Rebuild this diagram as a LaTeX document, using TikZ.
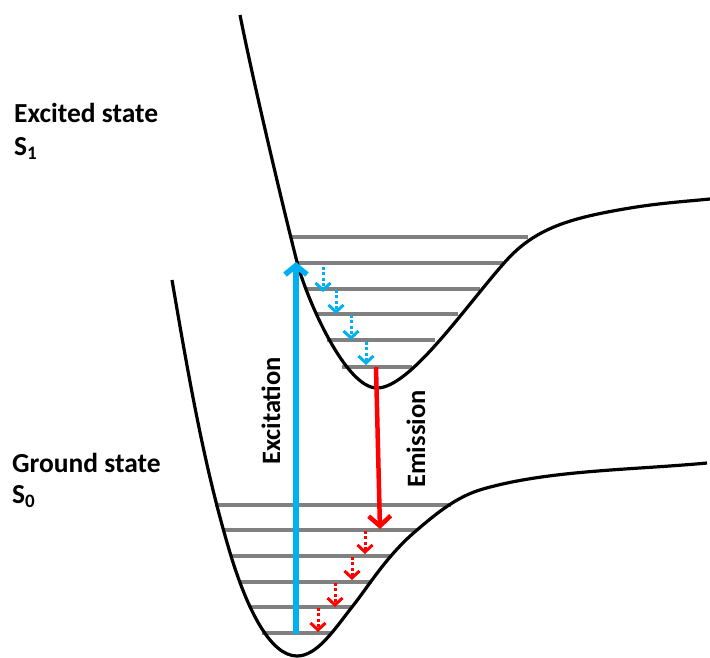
\documentclass[tikz,border=0pt]{standalone}
\usepackage{fontspec}
\setmainfont{Carlito}
\usetikzlibrary{arrows.meta}
\definecolor{exblue}{RGB}{0,176,240}
\definecolor{emred}{RGB}{255,0,0}
\definecolor{lvgray}{RGB}{128,128,128}
\newcommand{\subnum}[1]{\raisebox{-4pt}{\fontsize{19}{19}\selectfont #1}}
\tikzset{
  pot/.style={line width=3.2pt, black, line join=round},
  level/.style={line width=3.2pt, lvgray},
  lbl/.style={font=\fontsize{27.5}{32}\selectfont\bfseries, inner sep=0pt},
  vlbl/.style={font=\fontsize{26.5}{32}\selectfont\bfseries, inner sep=0pt, rotate=90, anchor=base},
  excite/.style={line width=5.5pt, exblue, -{Straight Barb[length=9pt,width=22pt]}},
  emit/.style={line width=4.5pt, emred, -{Straight Barb[length=10pt,width=22pt]}},
  relax/.style={line width=3pt, dash pattern=on 3pt off 2.4pt,
                -{Straight Barb[length=7pt,width=15pt]}},
}
\begin{document}
\begin{tikzpicture}[x=1pt,y=-1pt]
\useasboundingbox (0,0) rectangle (710,657);

% vibrational levels of S1
\foreach \y/\a/\b in {237/292/528, 263/297/503, 289/307/480, 314/316/458, 340/327/435, 367/342/412}
  \draw[level] (\a,\y) -- (\b,\y);
% vibrational levels of S0
\foreach \y/\a/\b in {505/215/451, 530/223/417, 556/231/390, 582/240/372, 607/250/352, 633/262/332}
  \draw[level] (\a,\y) -- (\b,\y);

% potential energy curve of S1
\draw[pot] (240,15) .. controls (255,90) and (285,215) .. (297,262)
  .. controls (306,297) and (345,388) .. (377,388)
  .. controls (410,388) and (465,307) .. (505,262)
  .. controls (535,228) and (570,218) .. (630,208)
  .. controls (660,203) and (690,201) .. (710,199);
% potential energy curve of S0
\draw[pot] (172,280) .. controls (190,385) and (205,470) .. (231,556)
  .. controls (247,608) and (270,656) .. (297,656)
  .. controls (317,656) and (334,630) .. (352,607)
  .. controls (368,587) and (387,555) .. (417,530)
  .. controls (438,512) and (458,496) .. (483,489)
  .. controls (549,470) and (632,470) .. (707,463);

% excitation and emission
\coordinate (exA) at (296,634);
\coordinate (exB) at (296,262);
\coordinate (emA) at (376,367);
\coordinate (emB) at (380,529);
\draw[excite] (exA) -- (exB);
\draw[emit] (emA) -- (emB);

% vibrational relaxation in S1
\foreach \x/\ya/\yb [count=\i] in {323/267/292, 336/290/314, 351/315/340, 366/342/365} {
  \coordinate (ra\i) at (\x,\ya);
  \coordinate (rb\i) at (\x,\yb);
  \draw[relax, exblue] (ra\i) -- (rb\i);
}
% vibrational relaxation in S0
\foreach \x/\ya/\yb [count=\i] in {365/531/554, 352/557/580, 335/583/607, 318/608/632} {
  \coordinate (ga\i) at (\x,\ya);
  \coordinate (gb\i) at (\x,\yb);
  \draw[relax, emred] (ga\i) -- (gb\i);
}

% labels
\node[lbl, anchor=base west] (exc) at (14,122) {Excited state};
\node[lbl, anchor=base west] (s1) at (14,155) {S\subnum{1}};
\node[lbl, anchor=base west] (gnd) at (12,472) {Ground state};
\node[lbl, anchor=base west] (s0) at (12,503) {S\subnum{0}};
\node[vlbl] (extxt) at (280,411) {Excitation};
\node[vlbl] (emtxt) at (425,439) {Emission};
\end{tikzpicture}
\end{document}
